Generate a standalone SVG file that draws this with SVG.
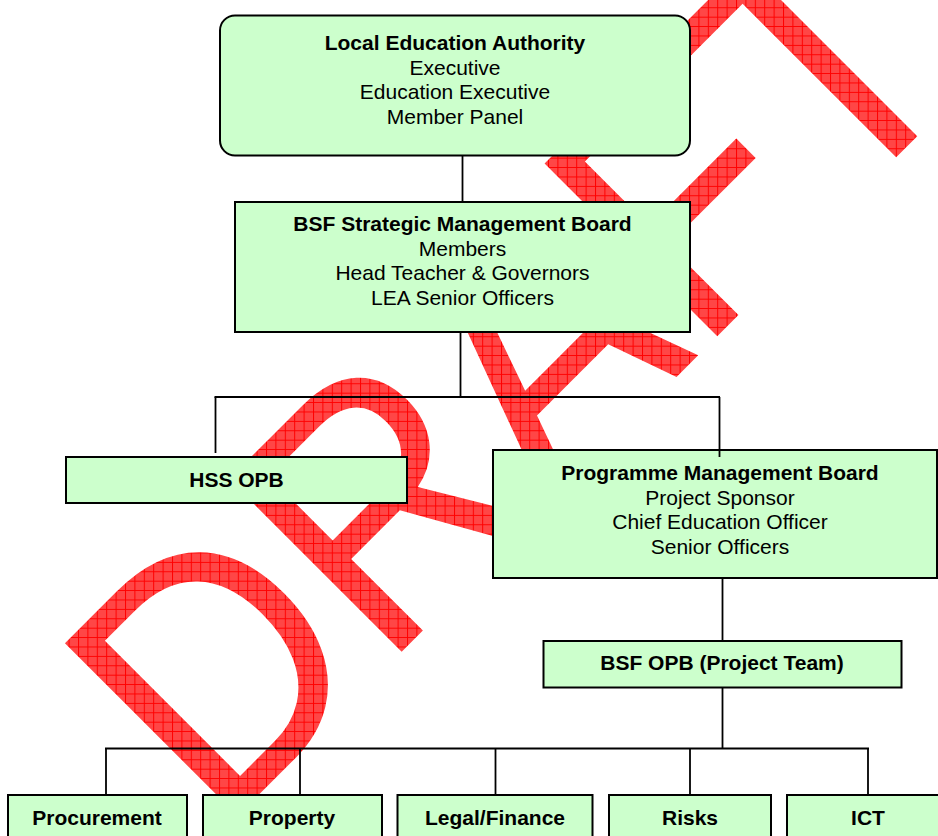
<svg xmlns="http://www.w3.org/2000/svg" width="938" height="836" viewBox="0 0 938 836">
  <style>
    .box { fill: #ccffcc; stroke: #000; stroke-width: 2; }
    .b { font-family: "Liberation Sans", Arial, sans-serif; font-weight: bold; font-size: 21px; text-anchor: middle; fill: #000; }
    .r { font-family: "Liberation Sans", Arial, sans-serif; font-size: 21px; text-anchor: middle; fill: #000; }
    .ln { fill: none; stroke: #000; stroke-width: 1.8; }
    .hl { fill: none; stroke: #000; stroke-width: 2.2; }
  </style>
  <defs>
    <pattern id="hatch" patternUnits="userSpaceOnUse" width="9.4" height="9.4" patternTransform="scale(1.105,1) rotate(45)">
      <rect width="9.4" height="9.4" fill="#ff4646"/>
      <path d="M0 0.5 H9.4 M0.5 0 V9.4" stroke="#ff0000" stroke-width="1" fill="none"/>
    </pattern>
  </defs>
  <rect width="938" height="836" fill="#ffffff"/>
  <g id="watermark" transform="translate(219,834.5) rotate(-45) scale(0.905,1)">
    <text x="0" y="0" font-family="Liberation Sans, Arial, sans-serif" font-size="355" fill="url(#hatch)">DRAFT</text>
  </g>
  <g id="lea">
    <rect class="box" x="220" y="15.5" width="470" height="140" rx="15" ry="15"/>
    <text class="b" x="455" y="50">Local Education Authority</text>
    <text class="r" x="455" y="74.5">Executive</text>
    <text class="r" x="455" y="99">Education Executive</text>
    <text class="r" x="455" y="123.5">Member Panel</text>
  </g>
  <g id="smb">
    <rect class="box" x="235" y="202" width="455" height="130"/>
    <text class="b" x="462.5" y="231">BSF Strategic Management Board</text>
    <text class="r" x="462.5" y="255.5">Members</text>
    <text class="r" x="462.5" y="280">Head Teacher &amp; Governors</text>
    <text class="r" x="462.5" y="304.5">LEA Senior Officers</text>
  </g>
  <g id="hss">
    <rect class="box" x="66" y="457" width="341" height="46"/>
    <text class="b" x="236.5" y="486.5">HSS OPB</text>
  </g>
  <g id="pmb">
    <rect class="box" x="493" y="450" width="444" height="128"/>
    <text class="b" x="720" y="480">Programme Management Board</text>
    <text class="r" x="720" y="504.5">Project Sponsor</text>
    <text class="r" x="720" y="529">Chief Education Officer</text>
    <text class="r" x="720" y="553.5">Senior Officers</text>
  </g>
  <g id="opb">
    <rect class="box" x="543.5" y="641" width="358" height="46.5"/>
    <text class="b" x="722" y="670">BSF OPB (Project Team)</text>
  </g>
  <g id="procurement">
    <rect class="box" x="8" y="795" width="179" height="60"/>
    <text class="b" x="97" y="825">Procurement</text>
  </g>
  <g id="property">
    <rect class="box" x="203" y="795" width="179" height="60"/>
    <text class="b" x="292" y="825">Property</text>
  </g>
  <g id="legal">
    <rect class="box" x="397.5" y="795" width="195" height="60"/>
    <text class="b" x="495" y="825">Legal/Finance</text>
  </g>
  <g id="risks">
    <rect class="box" x="609" y="795" width="162" height="60"/>
    <text class="b" x="690" y="825">Risks</text>
  </g>
  <g id="ict">
    <rect class="box" x="787" y="795" width="170" height="60"/>
    <text class="b" x="868" y="825">ICT</text>
  </g>
  <g id="connectors">
    <path class="ln" d="M462.5 156 V202"/>
    <path class="ln" d="M460.5 332 V397"/>
    <path class="hl" d="M214.5 397 H720"/>
    <path class="ln" d="M215.5 397 V453"/>
    <path class="ln" d="M719.5 397 V457"/>
    <path class="ln" d="M722.5 578 V641"/>
    <path class="ln" d="M722.5 688 V748.5"/>
    <path class="hl" d="M105 748.5 H869"/>
    <path class="ln" d="M106 748.5 V795"/>
    <path class="ln" d="M300 748.5 V795"/>
    <path class="ln" d="M495.5 748.5 V795"/>
    <path class="ln" d="M690 748.5 V795"/>
    <path class="ln" d="M868 748.5 V795"/>
  </g>
</svg>
